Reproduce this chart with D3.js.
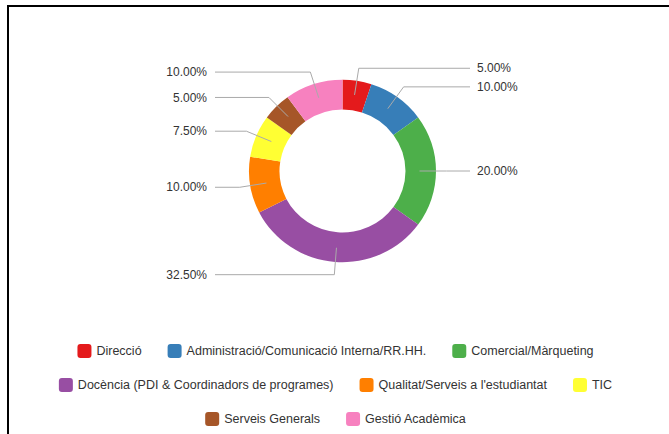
<!DOCTYPE html>
<html><head><meta charset="utf-8">
<script src="https://cdn.jsdelivr.net/npm/d3@7"></script>
<style>body{margin:0;background:#fff;}svg{display:block;font-family:"Liberation Sans",Arial,sans-serif;}</style>
</head><body>
<svg id="c" width="669" height="434"></svg>
<script>
const categories = ["Direcció","Administració/Comunicació Interna/RR.HH.","Comercial/Màrqueting","Docència (PDI & Coordinadors de programes)","Qualitat/Serveis a l'estudiantat","TIC","Serveis Generals","Gestió Acadèmica"];
const values = [5, 10, 20, 32.5, 10, 7.5, 5, 10];
const colors = ["#e41a1c","#377eb8","#4daf4a","#984ea3","#ff7f00","#ffff33","#a65628","#f781bf"];

const svg = d3.select("#c");
svg.append("rect").attr("x",8).attr("y",6).attr("width",720).attr("height",500)
  .attr("fill","none").attr("stroke","#000").attr("stroke-width",2);

const cx = 342.5, cy = 171, rOut = 93.5, rIn = 63;
const total = d3.sum(values);
const pie = d3.pie().sort(null).value(d=>d.v);
const data = pie(categories.map((c,i)=>({c, v:values[i], col:colors[i]})));
const arc = d3.arc().innerRadius(rIn).outerRadius(rOut);
const g = svg.append("g").attr("transform",`translate(${cx},${cy})`);
g.append("g").attr("transform","scale(1,0.975)")
  .selectAll("path.s").data(data).join("path").attr("class","s").attr("d",arc).attr("fill",d=>d.data.col);

const midArc = d3.arc().innerRadius(77).outerRadius(77);
const elbowArc = d3.arc().innerRadius(104).outerRadius(104);
const fmt = v => (v/total*100).toFixed(2)+"%";
data.forEach(d=>{
  const a = (d.startAngle+d.endAngle)/2;
  const p1 = midArc.centroid(d), p2 = elbowArc.centroid(d);
  const right = a < Math.PI;
  const xEnd = right ? 127.5 : -127.5;
  g.append("polyline").attr("points",[p1,p2,[xEnd,p2[1]]].map(p=>p.join(",")).join(" "))
    .attr("fill","none").attr("stroke","#aaa").attr("stroke-width",1);
  g.append("text").attr("x", right ? 134.5 : -135.5).attr("y",p2[1]).attr("dy","0.35em")
    .attr("text-anchor", right ? "start":"end").attr("font-size",12).attr("fill","#333")
    .text(fmt(d.data.v));
});

// legend
const lg = svg.append("g");
const items = categories.map((c,i)=>{
  const t = lg.append("text").attr("font-size",12.5).attr("fill","#333").text(c);
  return {c, col:colors[i], t, w:t.node().getComputedTextLength()};
});
const sw = 14, gap = 5, itemGap = 26, maxW = 600, lcx = 335.5;
const rows = [[]]; let cw = 0;
items.forEach(it=>{
  const w = sw+gap+it.w;
  const add = rows[rows.length-1].length ? itemGap + w : w;
  if (cw + add > maxW && rows[rows.length-1].length){ rows.push([it]); cw = w; }
  else { rows[rows.length-1].push(it); cw += add; }
});
const rowY = [351, 385, 419];
rows.forEach((row,ri)=>{
  const width = d3.sum(row, it=>sw+gap+it.w) + itemGap*(row.length-1);
  let x = lcx - width/2;
  const y = rowY[ri] !== undefined ? rowY[ri] : 419 + (ri-2)*34;
  row.forEach(it=>{
    lg.append("rect").attr("x",x).attr("y",y-7).attr("width",sw).attr("height",sw).attr("rx",3).attr("fill",it.col);
    it.t.attr("x",x+sw+gap).attr("y",y).attr("dy","0.35em");
    x += sw+gap+it.w+itemGap;
  });
});
</script>
</body></html>
